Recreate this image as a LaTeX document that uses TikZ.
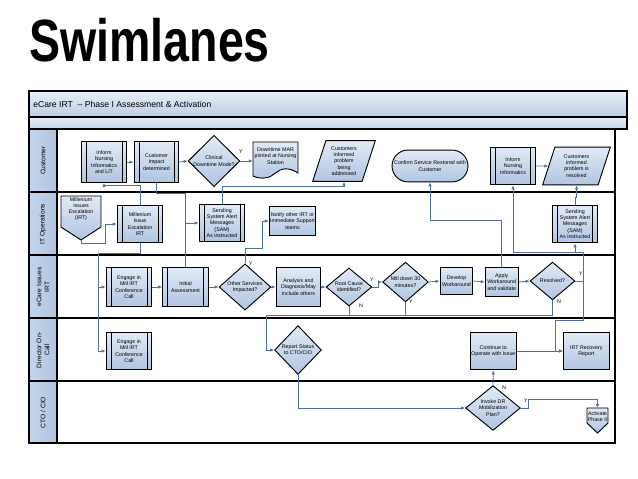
\documentclass[tikz,border=0pt]{standalone}
\usepackage{fontspec}
\setmainfont{Liberation Sans}
\newfontfamily\titlefont[FakeStretch=0.78]{Liberation Sans}
\usepackage{tikz}
\usetikzlibrary{shapes.geometric, shapes.misc, arrows.meta, calc}
\definecolor{cLine}{RGB}{79,113,160}
\definecolor{cTop}{RGB}{226,234,245}
\definecolor{cBot}{RGB}{176,196,225}
\definecolor{cLane}{RGB}{197,212,233}
\definecolor{cHeadTop}{RGB}{232,238,247}
\definecolor{cHeadBot}{RGB}{188,205,229}
\newcommand{\boxfont}{\fontsize{4}{4.7}\selectfont}
\tikzset{
	box/.style     ={rectangle, draw=black, line width=0.7pt, top color=cTop, bottom color=cBot, align=center, inner sep=0.5pt, font=\boxfont},
	pproc/.style   ={box, path picture={
		\draw[line width=0.5pt] ([xshift=3.6pt]path picture bounding box.north west) -- ([xshift=3.6pt]path picture bounding box.south west);
		\draw[line width=0.5pt] ([xshift=-3.6pt]path picture bounding box.north east) -- ([xshift=-3.6pt]path picture bounding box.south east);}},
	decis/.style   ={diamond, draw=black, line width=0.7pt, top color=cTop, bottom color=cBot, align=center, inner sep=0pt, font=\boxfont},
	parall/.style  ={trapezium, trapezium left angle=72, trapezium right angle=108, draw=black, line width=0.7pt, top color=cTop, bottom color=cBot, align=center, inner sep=0pt, font=\boxfont},
	term/.style    ={rounded rectangle, draw=black, line width=0.7pt, top color=cTop, bottom color=cBot, align=center, inner sep=1pt, font=\boxfont},
	shp/.style     ={draw=black, line width=0.7pt, top color=cTop, bottom color=cBot},
	txt/.style     ={align=center, inner sep=0pt, font=\boxfont},
	yn/.style      ={inner sep=0pt, font=\boxfont},
	lanelbl/.style ={rotate=90, align=center, font=\fontsize{5}{6}\selectfont},
	conn/.style    ={draw=cLine, line width=0.6pt, -{Latex[length=3pt,width=2.6pt]}},
	flow/.style    ={draw=cLine, line width=0.6pt},
}

\begin{document}
\begin{tikzpicture}[x=0.0265cm, y=-0.0265cm]
	\useasboundingbox (0,0) rectangle (638,479);
	\node[anchor=base west, inner sep=0pt, font=\titlefont\bfseries\fontsize{45}{48}\selectfont] (ttl) at (29,62) {Swimlanes};

	\draw[line width=0.8pt, top color=cHeadTop, bottom color=cHeadBot] (29,91) rectangle (627,117);
	\draw[line width=0.8pt, top color=cHeadTop, bottom color=cLane] (29,117) rectangle (627,129);
	\node[anchor=west, inner sep=0pt, font=\fontsize{6.5}{8}\selectfont] (hdr) at (33,104) {eCare IRT~~– Phase I Assessment \& Activation};
	\draw[line width=0.8pt, left color=cLane, right color=cBot] (29,129) rectangle (57,443);
	\draw[line width=0.8pt] (29,129) rectangle (615,443);
	\foreach \yy in {192,255,318,381}
		\draw[line width=1.5pt] (29,\yy) -- (615,\yy);
	\node[lanelbl] (lnCust) at (43,160.5) {Customer};
	\node[lanelbl] (lnIT) at (43,224) {IT Operations};
	\node[lanelbl] (lnIRT) at (43,287) {eCare Issues\\IRT};
	\node[lanelbl] (lnDir) at (43,350) {Director On-\\Call};
	\node[lanelbl] (lnCTO) at (43,412.5) {CTO / CIO};

	% customer lane
	\node[pproc, minimum width=34.5pt, minimum height=30.8pt] (infLit) at (104,162) {Inform\\Nursing\\Informatics\\and LIT};
	\node[pproc, minimum width=33.8pt, minimum height=30.8pt] (custImp) at (156.5,162) {Customer\\Impact\\determined};
	\node[decis, minimum width=39pt, minimum height=31.5pt] (clinDT) at (214,161) {Clinical\\Downtime Mode?};
	\draw[shp] (253,142) -- (298,142) -- (298,173) .. controls (289,167) and (281,168) .. (275.5,173) .. controls (270,178) and (262,180) .. (253,176) -- cycle;
	\node[txt, minimum width=33.8pt] (marDoc) at (275.5,156) {Downtime MAR\\printed at Nursing\\Station};
	\node[parall, minimum width=47.3pt, minimum height=29.3pt] (custAddr) at (344,161) {Customers\\informed\\problem\\being\\addressed};
	\node[term, minimum width=57pt, minimum height=24pt] (confirm) at (430,166) {Confirm Service Restored with\\Customer};
	\node[pproc, minimum width=33.8pt, minimum height=28.5pt] (infNI) at (513,166) {Inform\\Nursing\\Informatics};
	\node[parall, minimum width=39.8pt, minimum height=28.5pt] (custRes) at (576.5,166) {Customers\\informed\\problem is\\resolved};

	% it operations lane
	\draw[shp] (61,196) -- (101,196) -- (101,227) -- (81,240) -- (61,227) -- cycle;
	\node[txt] (mieOff) at (81,209) {Millenium\\Issues\\Escalation\\(IRT)};
	\coordinate (mieTip) at (81,240);
	\node[pproc, minimum width=34.5pt, minimum height=28.5pt] (mieIrt) at (140,224) {Millenium\\Issue\\Escalation\\IRT};
	\node[pproc, minimum width=34.5pt, minimum height=27.8pt] (samA) at (222,223) {Sending\\System Alert\\Messages\\(SAM)\\As instructed};
	\node[box, minimum width=33.8pt, minimum height=22.5pt] (notify) at (292.5,221) {Notify other IRT or\\Immediate Support\\teams};
	\node[pproc, minimum width=33.8pt, minimum height=28.5pt] (samB) at (575,224) {Sending\\System Alert\\Messages\\(SAM)\\As instructed};

	% ecare issues irt lane
	\node[pproc, minimum width=34.5pt, minimum height=29.3pt] (engA) at (129,287) {Engage in\\Mill IRT\\Conference\\Call};
	\node[pproc, minimum width=34.5pt, minimum height=29.3pt] (initA) at (185.5,287) {Initial\\Assessment};
	\node[decis, minimum width=39pt, minimum height=30.8pt] (othSvc) at (245,287) {Other Services\\Impacted?};
	\node[box, minimum width=33.8pt, minimum height=29.3pt] (analys) at (298.5,287) {Analysis and\\Diagnosis/May\\include others};
	\node[decis, minimum width=34.5pt, minimum height=28.5pt] (rootC) at (349,287) {Root Cause\\identified?};
	\node[decis, minimum width=34.5pt, minimum height=30pt] (millDn) at (405.5,282) {Mill down 30\\minutes?};
	\node[box, minimum width=24.8pt, minimum height=21pt] (devWa) at (456.5,281) {Develop\\Workaround};
	\node[box, minimum width=24.8pt, minimum height=22.5pt] (applyWa) at (501.7,282) {Apply\\Workaround\\and validate};
	\node[decis, minimum width=33.8pt, minimum height=28.5pt] (resolv) at (552.5,281) {Resolved?};

	% director on-call lane
	\node[pproc, minimum width=34.5pt, minimum height=28.5pt] (engB) at (129,351) {Engage in\\Mill IRT\\Conference\\Call};
	\node[decis, minimum width=35.3pt, minimum height=36.8pt] (repSt) at (298,350) {Report Status\\to CTO/CIO};
	\node[box, minimum width=33.8pt, minimum height=28.5pt] (contOp) at (493.3,351) {Continue to\\Operate with Issue};
	\node[box, minimum width=34.5pt, minimum height=28.5pt] (irtRep) at (586.3,351) {IRT Recovery\\Report};

	% cto / cio lane
	\node[decis, minimum width=41.3pt, minimum height=33.8pt] (invDR) at (493,408) {Invoke DR\\Mobilization\\Plan?};
	\draw[shp] (587,408) -- (608,408) -- (608,423) -- (597.5,433) -- (587,423) -- cycle;
	\node[txt] (actP2) at (597.5,416.5) {Activate\\Phase II};
	\coordinate (actTop) at (597.5,408);

	% connectors
	\draw[conn] (infLit.east) -- (custImp.west);
	\draw[conn] (custImp.east) -- (clinDT.west);
	\draw[conn] (clinDT.east) -- (clinDT.east -| marDoc.west);
	\draw[conn] (mieTip) -- ++(0,3) -| ($(mieIrt.west)+(-11,0)$) -- (mieIrt.west);
	\draw[conn] (mieIrt.north) -- ++(0,-19) -| (infLit.south);
	\draw[flow] (custImp.south) -- ++(0,11) -| (initA.north);
	\draw[conn] (initA.north |- samA.west) -- (samA.west);
	\draw[conn] (mieIrt.south) -- ++(0,10) -| ($(engA.west)+(-7,0)$) -- (engA.west);
	\draw[conn] ($(engA.west)+(-7,0)$) |- (engB.west);
	\draw[conn] (engA.east) -- (initA.west);
	\draw[conn] (initA.east) -- (othSvc.west);
	\draw[conn] (othSvc.north) -- ++(0,-15) -| ($(notify.west)+(-7,0)$) -- (notify.west);
	\draw[conn] (othSvc.east) -- (analys.west);
	\draw[conn] (analys.east) -- (rootC.west);
	\draw[conn] (rootC.east) -- ++(6,0) |- (millDn.west);
	\coordinate (nJoin) at ($(rootC.south)+(0,9)$);
	\draw[flow] (rootC.south) -- (nJoin);
	\draw[flow] (millDn.south) -- (millDn.south |- nJoin);
	\draw[conn] (resolv.south) |- (nJoin) -| ($(repSt.west)+(-8,0)$) -- (repSt.west);
	\draw[conn] (millDn.east) -- (devWa.west);
	\draw[conn] (devWa.east) -- (applyWa.west);
	\draw[conn] (applyWa.east) -- (resolv.west);
	\draw[conn] (applyWa.north) -- ++(0,-46) -| (confirm.south);
	\coordinate (rY) at ($(resolv.east)+(8,0)$);
	\coordinate (rTop) at ($(rY)+(0,-29)$);
	\draw[conn] (resolv.east) -- (rY) -- (rTop) -| (infNI.south);
	\draw[conn] (samB.south |- rTop) -- (samB.south);
	\draw[conn] (rY) -- ++(0,39) -| ($(irtRep.west)+(-8,0)$) -- (irtRep.west);
	\draw[conn] (samB.north) -- ++(0,-7) -| (custRes.south);
	\draw[conn] (samA.north) -- ++(0,-18) -| (custAddr.south);
	\draw[conn] (infNI.east) -- (custRes.west);
	\draw[conn] (repSt.south) |- (invDR.west);
	\draw[conn] (invDR.north) -- (contOp.south);
	\draw[conn] (invDR.east) -- ++(8,0) -- ++(0,-9) -| (actTop);
	\draw[conn] (contOp.east) -- (irtRep.west);

	% branch labels
	\node[yn] (yClin) at (241,152) {Y};
	\node[yn] (yOth) at (251,264) {Y};
	\node[yn] (yRoot) at (372,280) {Y};
	\node[yn] (nRoot) at (361,306) {N};
	\node[yn] (yMill) at (411,302) {Y};
	\node[yn] (yRes) at (581,274) {Y};
	\node[yn] (nRes) at (559,302) {N};
	\node[yn] (nInv) at (504,388) {N};
	\node[yn] (yInv) at (526,401) {Y};
\end{tikzpicture}
\end{document}
